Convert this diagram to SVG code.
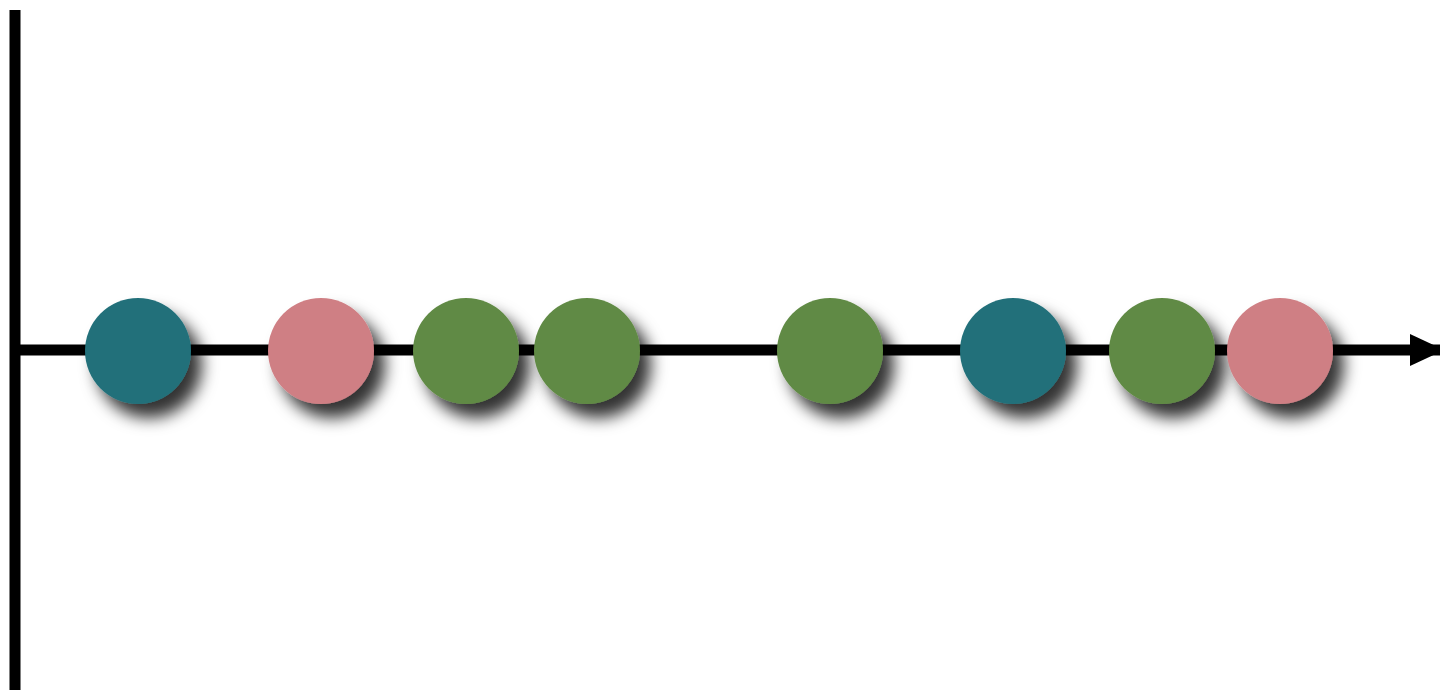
<svg xmlns="http://www.w3.org/2000/svg" width="1440" height="690" viewBox="0 0 1440 690">
<defs>
<filter id="sh" x="-40%" y="-40%" width="200%" height="200%">
<feDropShadow dx="11" dy="14" stdDeviation="8" flood-color="#000" flood-opacity="0.8"/>
</filter>
<marker id="arr" markerUnits="userSpaceOnUse" markerWidth="40" markerHeight="36" refX="34" refY="18" orient="auto">
<path d="M0,2 L34,18 L0,34 Z" fill="#000"/>
</marker>
<style>
.ax{stroke:#000;stroke-width:11;fill:none}
.teal{fill:#22707a;filter:url(#sh)}
.pink{fill:#cf7f84;filter:url(#sh)}
.green{fill:#618a45;filter:url(#sh)}
</style>
</defs>
<rect width="1440" height="690" fill="#fff"/>
<g id="connectors">
<line class="ax" x1="15" y1="10" x2="15" y2="690"/>
<line class="ax" x1="15" y1="350" x2="1444" y2="350" marker-end="url(#arr)"/>
</g>
<g id="n1"><circle class="teal" cx="138" cy="351" r="53"/></g>
<g id="n2"><circle class="pink" cx="321" cy="351" r="53"/></g>
<g id="n3"><circle class="green" cx="466" cy="351" r="53"/></g>
<g id="n4"><circle class="green" cx="587" cy="351" r="53"/></g>
<g id="n5"><circle class="green" cx="830" cy="351" r="53"/></g>
<g id="n6"><circle class="teal" cx="1013" cy="351" r="53"/></g>
<g id="n7"><circle class="green" cx="1162" cy="351" r="53"/></g>
<g id="n8"><circle class="pink" cx="1280" cy="351" r="53"/></g>
</svg>
